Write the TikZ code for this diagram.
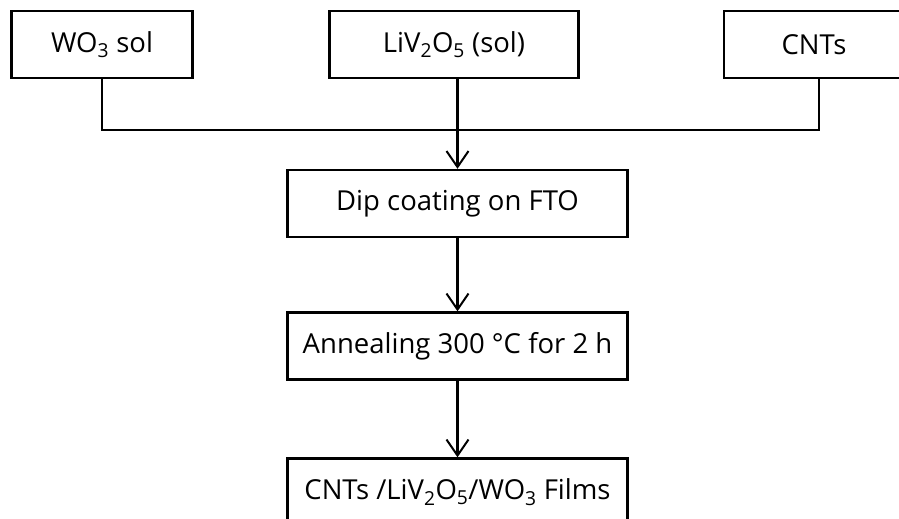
\documentclass[tikz,border=0pt]{standalone}
\usepackage{fontspec}
\setmainfont{Open Sans}
\usetikzlibrary{arrows.meta,calc}
\tikzset{
  box/.style={draw=black,line width=2.4pt,minimum height=67pt,inner sep=0pt,align=center,font=\fontsize{27.5}{32}\selectfont},
  ln/.style={draw=black,line width=2.4pt},
  ar/.style={ln,-{Straight Barb[length=16pt,width=22pt,line width=2pt]}},
}
\begin{document}
\begin{tikzpicture}[x=1pt,y=1pt]
  \useasboundingbox (0,0) rectangle (899,-519);
  % three starting materials
  \node[box,minimum width=181pt] (wo3) at (102,-44.5) {WO\textsubscript{3} sol};
  \node[box,minimum width=249pt] (liv) at (454,-44.5) {LiV\textsubscript{2}O\textsubscript{5} (sol)};
  \node[box,minimum width=180pt] (cnt) at (814,-44.5) {CNTs};
  % process steps
  \node[box,minimum width=340pt] (dip) at (457.5,-203.5) {Dip coating on FTO};
  \node[box,minimum width=340pt] (ann) at (457.5,-346) {Annealing 300 °C for 2 h};
  \node[box,minimum width=340pt] (film) at (457.5,-492) {CNTs /LiV\textsubscript{2}O\textsubscript{5}/WO\textsubscript{3} Films};
  \coordinate (join) at (dip.north |- 0,-130);
  \draw[ln] (wo3.south) |- (join);
  \draw[ln] ([xshift=5pt]cnt.south) |- (join);
  \draw[ar] (liv.south -| dip.north) -- (dip.north);
  \draw[ar] (dip) -- (ann);
  \draw[ar] (ann) -- (film);
\end{tikzpicture}
\end{document}
